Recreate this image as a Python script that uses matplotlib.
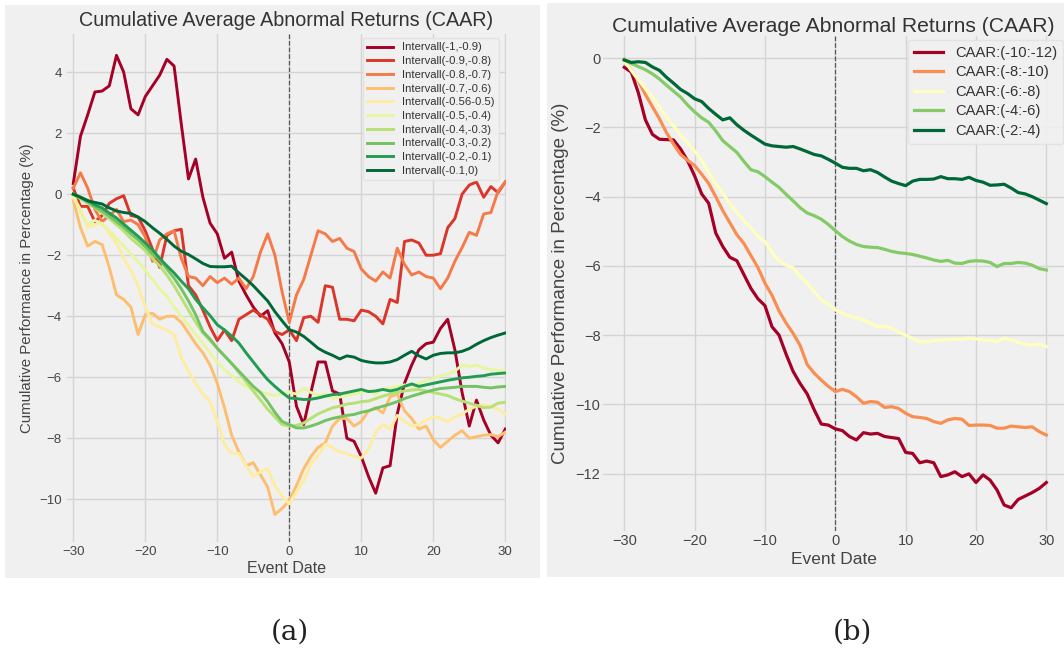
import numpy as np
import matplotlib.pyplot as plt
from matplotlib.patches import Rectangle

event_days = np.arange(-30, 31)

# ---- panel (a): CAAR per interval ----
labels_a = ['Intervall(-1,-0.9)', 'Intervall(-0.9,-0.8)', 'Intervall(-0.8,-0.7)',
            'Intervall(-0.7,-0.6)', 'Intervall(-0.56-0.5)', 'Intervall(-0.5,-0.4)',
            'Intervall(-0.4,-0.3)', 'Intervall(-0.3,-0.2)', 'Intervall(-0.2,-0.1)',
            'Intervall(-0.1,0)']

iv_10_09 = [0.35, 1.9, 2.6, 3.35, 3.38, 3.55, 4.55, 4.0, 2.8, 2.6,
            3.2, 3.55, 3.9, 4.42, 4.2, 2.3, 0.5, 1.15, -0.1, -0.95,
            -1.3, -2.1, -1.9, -2.85, -3.3, -3.7, -4.0, -3.82, -4.55, -4.9,
            -5.5,
            -6.95, -7.55, -6.5, -5.5, -5.5, -6.45, -6.55, -8.0, -8.1, -8.6,
            -9.25, -9.8, -8.97, -8.9, -7.2, -6.2, -5.6, -5.1, -4.9, -4.85,
            -4.4, -4.1, -5.1, -6.5, -7.6, -6.75, -7.4, -7.9, -8.15, -7.7]
iv_09_08 = [0.2, -0.4, -0.4, -0.9, -0.7, -0.3, -0.15, -0.05, -0.7, -0.75,
            -1.2, -1.8, -2.4, -1.35, -1.2, -1.15, -3.0, -3.3, -3.8, -4.35,
            -4.8, -4.45, -4.8, -4.1, -3.95, -3.8, -3.95, -4.1, -4.5, -4.6,
            -4.45,
            -4.8, -4.05, -4.0, -4.2, -3.0, -3.05, -4.1, -4.1, -4.15, -3.8,
            -3.85, -4.0, -4.25, -3.45, -3.55, -1.55, -1.5, -1.6, -2.0, -2.0,
            -1.95, -1.1, -0.8, 0.0, 0.3, 0.4, -0.1, 0.25, 0.05, 0.4]
iv_08_07 = [0.2, 0.7, 0.2, -0.5, -0.9, -0.7, -0.5, -0.9, -0.85, -1.0,
            -1.4, -2.2, -1.5, -1.3, -1.2, -2.1, -2.7, -2.75, -3.0, -2.7,
            -2.9, -2.75, -2.95, -2.75, -3.1, -2.7, -1.9, -1.3, -2.0, -3.2,
            -4.2,
            -3.3, -2.8, -2.0, -1.2, -1.3, -1.55, -1.45, -1.77, -1.88, -2.45,
            -2.7, -2.85, -2.55, -2.75, -1.77, -2.3, -2.65, -2.55, -2.7, -2.75,
            -3.1, -2.75, -2.2, -1.75, -1.25, -1.35, -0.65, -0.6, 0.1, 0.4]
iv_07_06 = [-0.2, -1.1, -1.7, -1.55, -1.65, -2.4, -3.3, -3.45, -3.7, -4.6,
            -3.95, -3.9, -4.1, -4.0, -4.0, -4.2, -4.55, -4.9, -5.2, -5.6,
            -6.2, -7.0, -7.9, -8.45, -8.9, -8.8, -9.2, -9.6, -10.5, -10.3,
            -10.05,
            -9.55, -9.0, -8.6, -8.3, -8.15, -7.6, -7.35, -7.35, -7.6, -7.45,
            -7.1, -7.0, -7.17, -6.65, -6.55, -7.1, -7.35, -7.7, -7.6, -8.05,
            -8.3, -8.1, -7.9, -7.75, -8.0, -7.95, -7.9, -7.88, -7.95, -7.8]
iv_056_05 = [-0.1, -0.5, -1.1, -1.0, -0.95, -1.3, -1.6, -2.1, -2.5, -3.0,
             -3.7, -4.25, -4.35, -4.45, -4.6, -5.35, -5.8, -6.2, -6.55, -6.8,
             -7.45, -8.2, -8.5, -8.5, -8.9, -9.25, -9.1, -9.0, -9.55, -9.9,
             -10.15,
             -9.75, -9.4, -8.85, -8.55, -8.2, -8.3, -8.45, -8.5, -8.6, -8.65,
             -8.35, -7.8, -7.55, -7.7, -7.25, -7.45, -7.6, -7.55, -7.4, -7.3,
             -7.35, -7.45, -7.3, -7.2, -7.05, -6.95, -6.9, -6.95, -7.05, -7.2]
iv_05_04 = [0.0, -0.6, -1.0, -0.85, -1.0, -1.2, -1.45, -1.7, -1.95, -2.2,
            -2.5, -2.8, -3.1, -3.35, -3.7, -4.0, -4.3, -4.6, -4.9, -5.2,
            -5.5, -5.75, -5.95, -6.15, -6.3, -6.45, -6.5, -6.55, -6.6, -6.55,
            -6.5,
            -6.55, -6.35, -6.5, -6.6, -6.55, -6.7, -6.65, -6.6, -6.55, -6.5,
            -6.45, -6.55, -6.4, -6.35, -6.3, -6.25, -6.3, -6.2, -6.1, -6.05,
            -5.95, -5.9, -5.8, -5.6, -5.65, -5.6, -5.7, -5.75, -5.78, -5.8]
iv_04_03 = [0.0, -0.15, -0.3, -0.45, -0.62, -0.8, -1.0, -1.2, -1.45, -1.65,
            -1.85, -2.1, -2.35, -2.65, -3.0, -3.4, -3.8, -4.2, -4.55, -4.8,
            -5.05, -5.3, -5.55, -5.85, -6.15, -6.45, -6.75, -7.05, -7.3, -7.55,
            -7.6,
            -7.58, -7.5, -7.35, -7.2, -7.1, -7.0, -6.95, -6.88, -6.85, -6.8,
            -6.78, -6.7, -6.62, -6.55, -6.5, -6.45, -6.42, -6.4, -6.45, -6.5,
            -6.55, -6.6, -6.7, -6.78, -6.85, -6.92, -7.0, -6.98, -6.85, -6.82]
iv_03_02 = [0.0, -0.12, -0.25, -0.42, -0.55, -0.72, -0.9, -1.08, -1.3, -1.5,
            -1.72, -1.95, -2.15, -2.45, -2.75, -3.1, -3.5, -3.95, -4.5, -4.75,
            -5.05, -5.3, -5.55, -5.8, -6.05, -6.3, -6.5, -6.8, -7.15, -7.45,
            -7.55,
            -7.66, -7.66, -7.6, -7.52, -7.42, -7.35, -7.3, -7.25, -7.22, -7.15,
            -7.1, -7.02, -6.95, -6.88, -6.8, -6.7, -6.62, -6.55, -6.48, -6.42,
            -6.37, -6.35, -6.33, -6.3, -6.3, -6.3, -6.33, -6.35, -6.32, -6.3]
iv_02_01 = [0.0, -0.1, -0.2, -0.35, -0.45, -0.62, -0.78, -0.98, -1.18, -1.38,
            -1.6, -1.82, -2.1, -2.35, -2.58, -2.85, -3.1, -3.45, -3.72, -3.98,
            -4.28, -4.45, -4.65, -4.88, -5.2, -5.5, -5.8, -6.08, -6.3, -6.5,
            -6.68,
            -6.7, -6.73, -6.72, -6.68, -6.62, -6.57, -6.55, -6.5, -6.45, -6.4,
            -6.47, -6.45, -6.4, -6.45, -6.4, -6.3, -6.22, -6.3, -6.25, -6.2,
            -6.15, -6.1, -6.06, -6.02, -6.0, -5.97, -5.95, -5.9, -5.88, -5.86]
iv_01_00 = [0.0, -0.1, -0.22, -0.27, -0.32, -0.45, -0.55, -0.6, -0.63, -0.75,
            -0.9, -1.1, -1.28, -1.48, -1.7, -1.87, -1.98, -2.12, -2.27, -2.37,
            -2.38, -2.38, -2.36, -2.58, -2.78, -3.0, -3.25, -3.5, -3.85, -4.15,
            -4.44,
            -4.52, -4.66, -4.85, -5.05, -5.18, -5.28, -5.4, -5.3, -5.34, -5.45,
            -5.5, -5.53, -5.53, -5.5, -5.42, -5.28, -5.15, -5.3, -5.4, -5.28,
            -5.22, -5.2, -5.2, -5.15, -5.06, -4.92, -4.8, -4.7, -4.62, -4.55]
series_a = [iv_10_09, iv_09_08, iv_08_07, iv_07_06, iv_056_05,
            iv_05_04, iv_04_03, iv_03_02, iv_02_01, iv_01_00]

# ---- panel (b): CAAR groups ----
labels_b = ['CAAR:(-10:-12)', 'CAAR:(-8:-10)', 'CAAR:(-6:-8)', 'CAAR:(-4:-6)', 'CAAR:(-2:-4)']

caar_10_12 = [-0.26, -0.4, -1.0, -1.78, -2.2, -2.34, -2.35, -2.36, -2.62, -2.96,
              -3.4, -3.92, -4.19, -5.05, -5.44, -5.75, -5.85, -6.25, -6.65, -6.95,
              -7.15, -7.76, -8.0, -8.55, -9.05, -9.4, -9.7, -10.16, -10.57, -10.6,
              -10.71,
              -10.76, -10.93, -11.03, -10.82, -10.86, -10.84, -10.93, -10.96, -10.99, -11.39,
              -11.42, -11.69, -11.64, -11.69, -12.09, -12.04, -11.95, -12.09, -12.01, -12.26,
              -12.04, -12.19, -12.48, -12.91, -12.99, -12.75, -12.65, -12.55, -12.43, -12.26]
caar_8_10 = [-0.03, -0.35, -0.65, -1.05, -1.4, -1.75, -2.15, -2.48, -2.78, -2.95,
             -3.1, -3.35, -3.62, -4.0, -4.4, -4.75, -5.1, -5.35, -5.7, -6.05,
             -6.5, -6.85, -7.3, -7.65, -7.95, -8.3, -8.85, -9.1, -9.3, -9.48,
             -9.63,
             -9.57, -9.63, -9.78, -9.97, -9.92, -9.94, -10.09, -10.07, -10.12, -10.26,
             -10.36, -10.38, -10.41, -10.5, -10.55, -10.45, -10.41, -10.43, -10.61, -10.6,
             -10.6, -10.61, -10.69, -10.69, -10.63, -10.65, -10.67, -10.65, -10.79, -10.89]
caar_6_8 = [-0.07, -0.35, -0.62, -0.88, -1.12, -1.4, -1.7, -1.95, -2.22, -2.45,
            -2.68, -2.95, -3.3, -3.62, -3.9, -4.2, -4.45, -4.7, -4.9, -5.15,
            -5.3, -5.6, -5.85, -5.98, -6.05, -6.3, -6.5, -6.75, -6.98, -7.1,
            -7.27,
            -7.37, -7.45, -7.49, -7.56, -7.66, -7.76, -7.74, -7.8, -7.92, -8.0,
            -8.1, -8.19, -8.19, -8.16, -8.14, -8.14, -8.12, -8.12, -8.09, -8.11,
            -8.14, -8.16, -8.19, -8.09, -8.14, -8.21, -8.26, -8.29, -8.26, -8.33]
caar_4_6 = [-0.05, -0.15, -0.24, -0.33, -0.45, -0.6, -0.78, -0.95, -1.12, -1.35,
            -1.55, -1.72, -1.85, -2.1, -2.38, -2.55, -2.72, -2.98, -3.22, -3.28,
            -3.42, -3.58, -3.73, -3.93, -4.12, -4.32, -4.47, -4.55, -4.65, -4.8,
            -4.98,
            -5.15, -5.28, -5.38, -5.44, -5.46, -5.47, -5.52, -5.58, -5.62, -5.64,
            -5.67, -5.72, -5.77, -5.83, -5.87, -5.84, -5.92, -5.93, -5.87, -5.85,
            -5.86, -5.9, -6.02, -5.93, -5.93, -5.9, -5.92, -5.98, -6.08, -6.12]
caar_2_4 = [-0.05, -0.12, -0.1, -0.12, -0.25, -0.35, -0.55, -0.72, -0.9, -1.02,
            -1.17, -1.25, -1.45, -1.62, -1.78, -1.72, -1.92, -2.08, -2.22, -2.35,
            -2.48, -2.53, -2.55, -2.57, -2.55, -2.62, -2.7, -2.78, -2.82, -2.92,
            -3.03,
            -3.15, -3.18, -3.18, -3.25, -3.22, -3.3, -3.43, -3.55, -3.62, -3.68,
            -3.55, -3.5, -3.5, -3.49, -3.42, -3.48, -3.48, -3.5, -3.44, -3.53,
            -3.58, -3.67, -3.66, -3.64, -3.75, -3.88, -3.92, -4.0, -4.1, -4.2]
series_b = [caar_10_12, caar_8_10, caar_6_8, caar_4_6, caar_2_4]

plt.rcParams['font.family'] = ['Liberation Sans', 'DejaVu Sans']

W, H = 1064, 648
fig = plt.figure(figsize=(W / 100, H / 100), dpi=100, facecolor='white')

# grey panel backgrounds (pixel boxes: x0, y0, x1, y1 from the top left)
for x0, y0, x1, y1 in [(5, 5, 540, 578), (547, 3, 1064, 577)]:
    fig.patches.append(Rectangle((x0 / W, 1 - y1 / H), (x1 - x0) / W, (y1 - y0) / H,
                                 transform=fig.transFigure, facecolor='#f0f0f0',
                                 edgecolor='none', zorder=-1))


def style(ax, tick_fs):
    ax.set_facecolor('#f0f0f0')
    for s in ax.spines.values():
        s.set_visible(False)
    ax.grid(True, color='#d4d4d4', lw=1)
    ax.set_axisbelow(True)
    ax.tick_params(length=0, labelsize=tick_fs, colors='#444444')
    ax.axvline(0, color='#555555', ls='--', lw=0.9, zorder=1.5)


# panel (a)
ax1 = fig.add_axes([66.8 / W, 1 - 542 / H, 439.2 / W, 508 / H])
style(ax1, 9.5)
ax1.tick_params(axis='y', pad=3.5)
ax1.tick_params(axis='x', pad=3)
colors_a = plt.cm.RdYlGn(np.linspace(0, 1, len(series_a)))
for vals, lab, c in zip(series_a, labels_a, colors_a):
    ax1.plot(event_days, vals, color=c, lw=2.1, label=lab)
ax1.set_xlim(-30.9, 30.1)
ax1.set_ylim(-11.4, 5.25)
ax1.set_xticks([-30, -20, -10, 0, 10, 20, 30])
ax1.set_yticks([-10, -8, -6, -4, -2, 0, 2, 4])
ax1.set_title('Cumulative Average Abnormal Returns (CAAR)', fontsize=14.2,
              color='#333333', pad=6)
ax1.set_xlabel('Event Date', fontsize=11.5, color='#444444', labelpad=2)
ax1.set_ylabel('Cumulative Performance in Percentage (%)', fontsize=10.8,
               color='#444444', labelpad=4)
leg1 = ax1.legend(loc='upper right', bbox_to_anchor=(499 / W, 1 - 38 / H),
                  bbox_transform=fig.transFigure, borderaxespad=0, fontsize=8.1,
                  labelspacing=0.33, handlelength=2.3, frameon=True,
                  facecolor='#f0f0f0', edgecolor='#e2e2e2', framealpha=0.9)
for t in leg1.get_texts():
    t.set_color('#333333')

# panel (b)
ax2 = fig.add_axes([603.2 / W, 1 - 530.6 / H, 460.7 / W, 494.8 / H])
style(ax2, 10.5)
ax2.tick_params(axis='y', pad=2)
ax2.tick_params(axis='x', pad=2.5)
colors_b = plt.cm.RdYlGn(np.linspace(0, 1, len(series_b)))
for vals, lab, c in zip(series_b, labels_b, colors_b):
    ax2.plot(event_days, vals, color=c, lw=2.3, label=lab)
ax2.set_xlim(-33, 32.5)
ax2.set_ylim(-13.65, 0.65)
ax2.set_xticks([-30, -20, -10, 0, 10, 20, 30])
ax2.set_yticks([-12, -10, -8, -6, -4, -2, 0])
ax2.set_title('Cumulative Average Abnormal Returns (CAAR)', fontsize=15.2,
              color='#333333', pad=3)
ax2.set_xlabel('Event Date', fontsize=12.5, color='#444444', labelpad=3)
ax2.set_ylabel('Cumulative Performance in Percentage (%)', fontsize=13.5,
               color='#444444', labelpad=5)
leg2 = ax2.legend(loc='upper right', bbox_to_anchor=(1063 / W, 1 - 40 / H),
                  bbox_transform=fig.transFigure, borderaxespad=0, fontsize=10.6,
                  labelspacing=0.37, handlelength=2.0, frameon=True,
                  facecolor='#f0f0f0', edgecolor='#e2e2e2', framealpha=0.9)
for t in leg2.get_texts():
    t.set_color('#333333')

# sub-figure captions
fig.text(290 / W, 1 - 632 / H, '(a)', ha='center', va='center', fontsize=20,
         family=['DejaVu Serif'], color='#222222')
fig.text(852 / W, 1 - 632 / H, '(b)', ha='center', va='center', fontsize=20,
         family=['DejaVu Serif'], color='#222222')

fig.savefig('out.png', dpi=100, facecolor='white')
